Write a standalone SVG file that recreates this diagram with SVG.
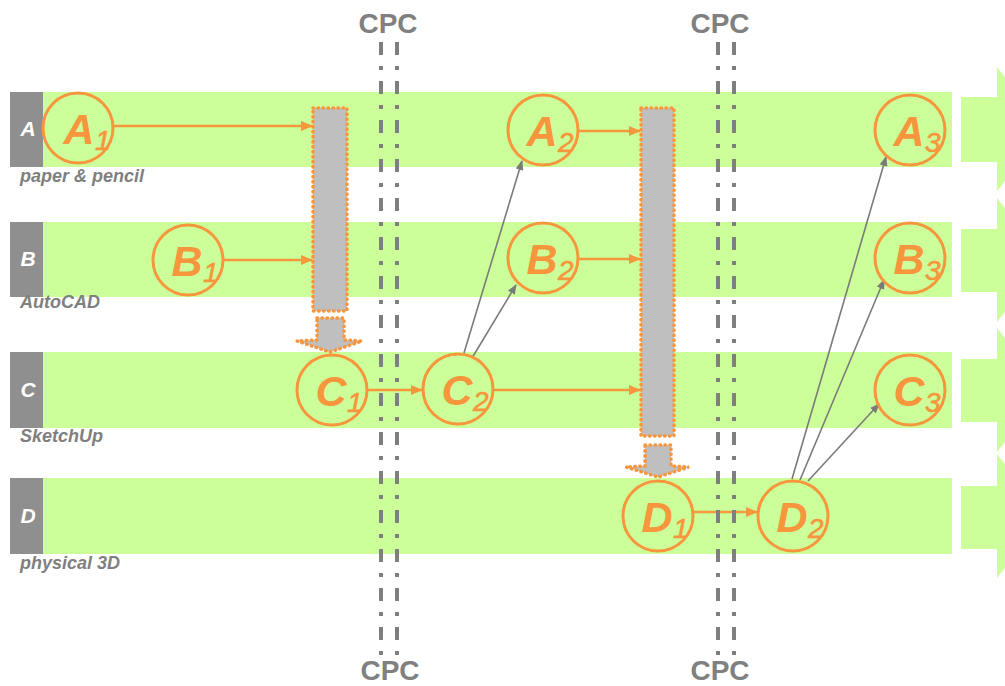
<svg xmlns="http://www.w3.org/2000/svg" width="1005" height="686" viewBox="0 0 1005 686">
<style>
.band{fill:#ccff99}
.tab{fill:#8f8f8f}
.tabt{font-family:"Liberation Sans",Arial,sans-serif;font-weight:bold;font-style:italic;font-size:21px;fill:#ffffff;text-anchor:middle}
.lbl{font-family:"Liberation Sans",Arial,sans-serif;font-weight:bold;font-style:italic;font-size:18px;fill:#7f7f7f}
.cpc{font-family:"Liberation Sans",Arial,sans-serif;font-weight:bold;font-size:28px;fill:#808080;text-anchor:middle}
.cpcl{stroke:#7f7f7f;stroke-width:4;fill:none;stroke-dasharray:13 11 4 11}
.node circle{fill:none;stroke:#f7963c;stroke-width:3}
.big{font-family:"Liberation Sans",Arial,sans-serif;font-weight:bold;font-style:italic;font-size:43px;fill:#f7963c;text-anchor:middle}
.sub{font-family:"Liberation Sans",Arial,sans-serif;font-style:italic;font-size:28px;fill:#f7963c;stroke:#f7963c;stroke-width:0.6}
.bar{fill:#bfbfbf;stroke:#f7963c;stroke-width:3.5;stroke-dasharray:0.5 4.5;stroke-linecap:round}
.oc{stroke:#f7963c;stroke-width:2.5;fill:none;marker-end:url(#oa)}
.gc{stroke:#7a7a7a;stroke-width:1.6;fill:none;marker-end:url(#ga)}
.barr{fill:#ccff99}
</style>
<defs>
<marker id="oa" markerUnits="userSpaceOnUse" markerWidth="12" markerHeight="10" refX="11" refY="5" orient="auto"><path d="M0,0 L12,5 L0,10 z" fill="#f7963c"/></marker>
<marker id="ga" markerUnits="userSpaceOnUse" markerWidth="10" markerHeight="8" refX="9" refY="4" orient="auto"><path d="M0,0 L10,4 L0,8 z" fill="#7a7a7a"/></marker>
</defs>

<g id="lanes">
<rect class="band" x="43" y="92" width="909" height="75"/>
<rect class="band" x="43" y="222" width="909" height="75"/>
<rect class="band" x="43" y="352" width="909" height="76"/>
<rect class="band" x="43" y="478" width="909" height="76"/>
<rect class="tab" x="10" y="92" width="33" height="75"/>
<rect class="tab" x="10" y="222" width="33" height="75"/>
<rect class="tab" x="10" y="352" width="33" height="76"/>
<rect class="tab" x="10" y="478" width="33" height="76"/>
<text class="tabt" x="28" y="136">A</text>
<text class="tabt" x="28" y="266">B</text>
<text class="tabt" x="28" y="397">C</text>
<text class="tabt" x="28" y="523">D</text>
<text class="lbl" x="20" y="182">paper &amp; pencil</text>
<text class="lbl" x="20" y="308">AutoCAD</text>
<text class="lbl" x="20" y="442">SketchUp</text>
<text class="lbl" x="20" y="569">physical 3D</text>
<polygon class="barr" points="961,97 997,97 997,67 1045,129 997,191 997,162 961,162"/>
<polygon class="barr" points="961,229 997,229 997,198 1045,260 997,322 997,292 961,292"/>
<polygon class="barr" points="961,359 997,359 997,328 1045,390 997,452 997,422 961,422"/>
<polygon class="barr" points="961,486 997,486 997,454 1045,516 997,578 997,549 961,549"/>
</g>

<g id="merge1">
<rect class="bar" x="313" y="108" width="34" height="203"/>
<polygon class="bar" points="317,318 344,318 344,340 362,341 330,352 297,341 317,340"/>
</g>
<g id="merge2">
<rect class="bar" x="641" y="108" width="33" height="328"/>
<polygon class="bar" points="645,445 671,445 671,466 689,467 658,477 626,467 645,466"/>
</g>

<g id="connectors">
<line class="oc" x1="113" y1="126" x2="312" y2="126"/>
<line class="oc" x1="223" y1="260" x2="312" y2="260"/>
<line class="oc" x1="367" y1="390" x2="422" y2="390"/>
<line class="oc" x1="578" y1="131" x2="640" y2="131"/>
<line class="oc" x1="578" y1="259" x2="640" y2="259"/>
<line class="oc" x1="493" y1="390" x2="640" y2="390"/>
<line class="oc" x1="693" y1="512" x2="757" y2="512"/>
<line class="gc" x1="464" y1="353" x2="522" y2="161"/>
<line class="gc" x1="472" y1="358" x2="516" y2="285"/>
<line class="gc" x1="792" y1="479" x2="886" y2="157"/>
<line class="gc" x1="800" y1="480" x2="884" y2="280"/>
<line class="gc" x1="808" y1="481" x2="879" y2="404"/>
</g>

<g id="cpc1">
<text class="cpc" x="388" y="33">CPC</text>
<line class="cpcl" x1="381" y1="42" x2="381" y2="656"/>
<line class="cpcl" x1="397" y1="42" x2="397" y2="656"/>
<text class="cpc" x="390" y="680">CPC</text>
</g>
<g id="cpc2">
<text class="cpc" x="720" y="33">CPC</text>
<line class="cpcl" x1="718" y1="42" x2="718" y2="656"/>
<line class="cpcl" x1="734" y1="42" x2="734" y2="656"/>
<text class="cpc" x="720" y="680">CPC</text>
</g>

<g id="A1" class="node"><circle cx="78" cy="128" r="35"/><text class="big" x="79" y="144">A</text><text class="sub" x="95" y="150">1</text></g>
<g id="B1" class="node"><circle cx="188" cy="260" r="35"/><text class="big" x="187" y="276">B</text><text class="sub" x="203" y="282">1</text></g>
<g id="C1" class="node"><circle cx="332" cy="390" r="35"/><text class="big" x="331" y="406">C</text><text class="sub" x="347" y="412">1</text></g>
<g id="A2" class="node"><circle cx="543" cy="130" r="35"/><text class="big" x="542" y="146">A</text><text class="sub" x="558" y="152">2</text></g>
<g id="B2" class="node"><circle cx="543" cy="258" r="35"/><text class="big" x="542" y="274">B</text><text class="sub" x="558" y="280">2</text></g>
<g id="C2" class="node"><circle cx="458" cy="389" r="35"/><text class="big" x="457" y="405">C</text><text class="sub" x="473" y="411">2</text></g>
<g id="D1" class="node"><circle cx="658" cy="516" r="35"/><text class="big" x="657" y="532">D</text><text class="sub" x="673" y="538">1</text></g>
<g id="D2" class="node"><circle cx="793" cy="516" r="35"/><text class="big" x="792" y="532">D</text><text class="sub" x="808" y="538">2</text></g>
<g id="A3" class="node"><circle cx="910" cy="130" r="35"/><text class="big" x="909" y="146">A</text><text class="sub" x="925" y="152">3</text></g>
<g id="B3" class="node"><circle cx="910" cy="258" r="35"/><text class="big" x="909" y="274">B</text><text class="sub" x="925" y="280">3</text></g>
<g id="C3" class="node"><circle cx="910" cy="390" r="35"/><text class="big" x="909" y="406">C</text><text class="sub" x="925" y="412">3</text></g>
</svg>
